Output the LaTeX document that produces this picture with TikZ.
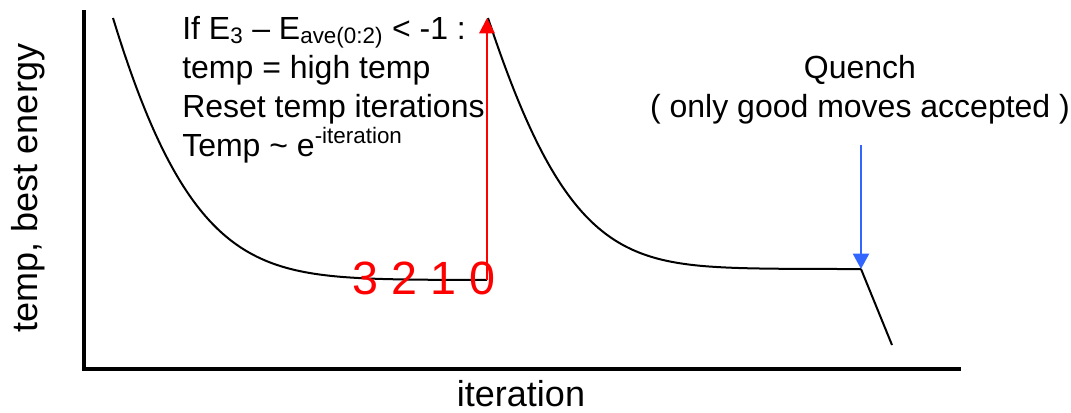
\documentclass[tikz,border=0pt]{standalone}
\usepackage{fontspec}
\setmainfont{Liberation Sans}
\usetikzlibrary{arrows.meta}
\definecolor{qblue}{RGB}{51,102,255}
\tikzset{
  curve/.style={line width=1.5pt, line join=round},
  axis/.style={line width=3.6pt, line join=miter},
  lbl/.style={inner sep=0pt, font=\fontsize{24}{29}\selectfont},
  axlbl/.style={inner sep=0pt, font=\fontsize{27}{32}\selectfont},
  redarrow/.style={red, line width=1.6pt, -{Triangle[width=11.5pt,length=11.5pt]}},
  bluearrow/.style={qblue, line width=1.6pt, -{Triangle[width=12pt,length=11.5pt]}},
}
\begin{document}
\begin{tikzpicture}[x=0.75pt,y=-0.75pt]
\useasboundingbox (0,0) rectangle (1071,412);
% axes
\coordinate (ytop) at (84,10);
\coordinate (origin) at (84,369);
\coordinate (xend) at (961,369);
\draw[axis] (ytop) -- (origin) -- (xend);
% axis labels
\node[axlbl, rotate=90] (ylab) at (28,188) {temp, best energy};
\node[axlbl, anchor=base] (xlab) at (521,406) {iteration};
% curve 1 (cooling)
\coordinate (c1start) at (113,18);
\coordinate (c1end) at (487,280);
\draw[curve] plot[domain=0:374, samples=160, smooth]
  ({113+\x}, {280-262*exp(-0.0125*\x-0.3*(\x/100)*(\x/100))});
% curve 2 (reheated cooling)
\coordinate (peak) at (487,18);
\coordinate (qpoint) at (861,269);
\coordinate (qend) at (892,345);
\draw[curve] plot[domain=0:373, samples=160, smooth]
  ({488+\x}, {269-251*exp(-0.012*\x-0.4*(\x/100)*(\x/100))});
\draw[curve] (qpoint) -- (qend);
% red digits
\node[inner sep=0pt, text=red, font=\fontsize{35}{40}\selectfont] (digits) at (424,278) {3 2 1 0};
% red arrow
\draw[redarrow] (c1end) -- (peak);
% blue arrow
\coordinate (bstart) at (861,145);
\draw[bluearrow] (bstart) -- (qpoint);
% left text block
\node[lbl, anchor=base west] (l1) at (182,39) {If E\textsubscript{3} – E\textsubscript{ave(0:2)} < -1 :};
\node[lbl, anchor=base west] (l2) at (182,78) {temp = high temp};
\node[lbl, anchor=base west] (l3) at (182,117) {Reset temp iterations};
\node[lbl, anchor=base west] (l4) at (182,156) {Temp \textasciitilde{} e\textsuperscript{-iteration}};
% quench text
\node[lbl, anchor=base] (q1) at (860,78) {Quench};
\node[lbl, anchor=base] (q2) at (860,117) {( only good moves accepted )};
\end{tikzpicture}
\end{document}
